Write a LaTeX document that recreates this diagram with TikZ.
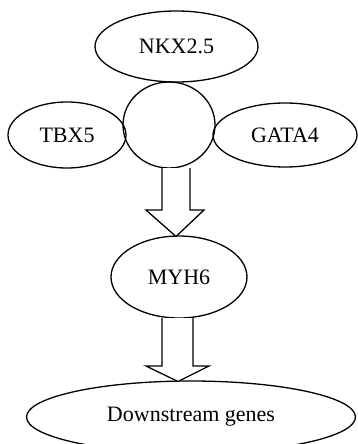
\documentclass[tikz,border=0pt]{standalone}
\usepackage{fontspec}
\setmainfont{Liberation Serif}
\usetikzlibrary{shapes.geometric}
\begin{document}
\begin{tikzpicture}[x=1pt,y=-1pt,
  oval/.style={draw, line width=1.3pt, ellipse, inner sep=0pt, font=\fontsize{22}{26}\selectfont},
  blockarrow/.style={draw, line width=1.3pt, fill=white, line join=miter}]
\useasboundingbox (0,0) rectangle (357,444);
\node[oval, minimum width=163pt, minimum height=71pt] (nkx) at (176.5,46.5) {NKX2.5};
\node[oval, minimum width=118pt, minimum height=66pt] (tbx) at (67,135) {TBX5};
\node[oval, minimum width=144pt, minimum height=64pt] (gata) at (285,135) {GATA4};
\node[oval, minimum width=92pt, minimum height=86pt] (hub) at (169,125) {};
\node[oval, minimum width=136pt, minimum height=82pt] (myh) at (179,277) {MYH6};
\node[oval, minimum width=329pt, minimum height=72pt] (down) at (191,417) {Downstream genes};
% block arrow 1: hub -> MYH6
\coordinate (a1tip) at (176,236.5);
\draw[blockarrow] (162,168) -- (162,210) -- (146,210) -- (a1tip) -- (204,210) -- (190,210) -- (190,168);
% block arrow 2: MYH6 -> downstream
\coordinate (a2tip) at (178,381.5);
\draw[blockarrow] (162,318) -- (162,366) -- (146,366) -- (a2tip) -- (209,366) -- (193,366) -- (193,318);
\end{tikzpicture}
\end{document}
